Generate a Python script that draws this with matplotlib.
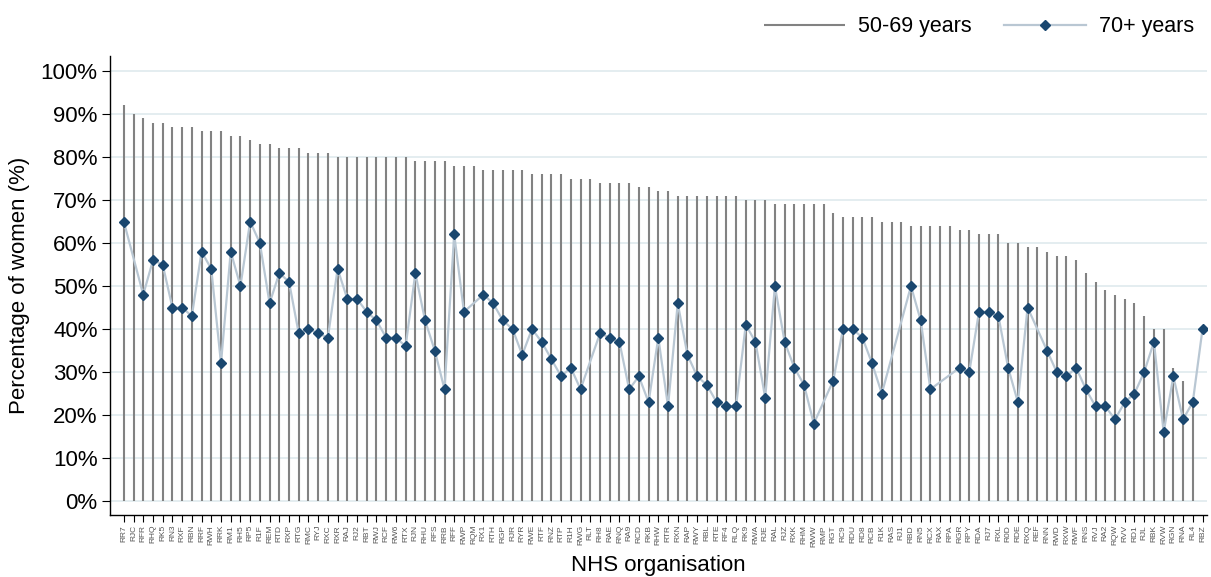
import numpy as np
import matplotlib.pyplot as plt

# NHS organisations, ordered by share of women aged 50-69
orgs = ["RR7", "RJC", "RFR", "RHQ", "RK5", "RN3", "RXF", "RBN", "RRF", "RWH",
        "RRK", "RM1", "RH5", "RP5", "R1F", "REM", "RTD", "RXP", "RTG", "RMC",
        "RYJ", "RXC", "RXR", "RAJ", "RJ2", "RBT", "RWJ", "RCF", "RW6", "RTX",
        "RJN", "RHU", "RFS", "RRB", "RFF", "RWP", "RQM", "RX1", "RTH", "RGP",
        "RJR", "RYR", "RWE", "RTF", "RNZ", "RTP", "R1H", "RWG", "RLT", "RH8",
        "RAE", "RNQ", "RA9", "RCD", "RKB", "RHW", "RTR", "RXN", "RAP", "RWY",
        "RBL", "RTE", "RF4", "RLQ", "RK9", "RWA", "RJE", "RAL", "RJZ", "RXK",
        "RHM", "RWW", "RMP", "RGT", "RC9", "RDU", "RD8", "RCB", "R1K", "RAS",
        "RJ1", "RBD", "RN5", "RCX", "RAX", "RPA", "RGR", "RPY", "RDA", "RJ7",
        "RXL", "R0D", "RDE", "RXQ", "REF", "RNN", "RWD", "RXW", "RWF", "RNS",
        "RVJ", "RA2", "RQW", "RVV", "RD1", "RJL", "RBK", "RVW", "RGN", "RNA",
        "RL4", "RBZ"]

# % women aged 50-69 years
pct_50_69 = [92, 90, 89, 88, 88, 87, 87, 87, 86, 86,
             86, 85, 85, 84, 83, 83, 82, 82, 82, 81,
             81, 81, 80, 80, 80, 80, 80, 80, 80, 80,
             79, 79, 79, 79, 78, 78, 78, 77, 77, 77,
             77, 77, 76, 76, 76, 76, 75, 75, 75, 74,
             74, 74, 74, 73, 73, 72, 72, 71, 71, 71,
             71, 71, 71, 71, 70, 70, 70, 69, 69, 69,
             69, 69, 69, 67, 66, 66, 66, 66, 65, 65,
             65, 64, 64, 64, 64, 64, 63, 63, 62, 62,
             62, 60, 60, 59, 59, 58, 57, 57, 56, 53,
             51, 49, 48, 47, 46, 43, 40, 40, 31, 28,
             22, np.nan]

# % women aged 70+ years (nan = not shown)
pct_70plus = [65, np.nan, 48, 56, 55, 45, 45, 43, 58, 54,
              32, 58, 50, 65, 60, 46, 53, 51, 39, 40,
              39, 38, 54, 47, 47, 44, 42, 38, 38, 36,
              53, 42, 35, 26, 62, 44, np.nan, 48, 46, 42,
              40, 34, 40, 37, 33, 29, 31, 26, np.nan, 39,
              38, 37, 26, 29, 23, 38, 22, 46, 34, 29,
              27, 23, 22, 22, 41, 37, 24, 50, 37, 31,
              27, 18, np.nan, 28, 40, 40, 38, 32, 25, np.nan,
              np.nan, 50, 42, 26, np.nan, np.nan, 31, 30, 44, 44,
              43, 31, 23, 45, np.nan, 35, 30, 29, 31, 26,
              22, 22, 19, 23, 25, 30, 37, 16, 29, 19,
              23, 40]

x = np.arange(len(orgs))
a = np.array(pct_50_69, dtype=float)
b = np.array(pct_70plus, dtype=float)

plt.rcParams['font.family'] = ['Liberation Sans', 'DejaVu Sans']

fig = plt.figure(figsize=(12.11, 5.77), dpi=100)
ax = fig.add_axes([0.091, 0.107, 0.906, 0.796])

# light horizontal grid
for v in range(0, 101, 10):
    ax.axhline(v, color="#e4edf0", lw=1.4, zorder=0)

ok = ~np.isnan(a)
ax.vlines(x[ok], 0, a[ok], color="#828282", lw=1.5, zorder=2, label="50-69 years")

m = ~np.isnan(b)
ax.plot(x[m], b[m], color="#b9c7d3", lw=1.6, marker="D", markersize=5.3,
        markerfacecolor="#1a476f", markeredgecolor="#1a476f", zorder=3,
        label="70+ years")

ax.set_xlim(-1.4, 111.5)
ax.set_ylim(-3.3, 103.5)
ax.set_yticks(range(0, 101, 10))
ax.set_yticklabels([f"{v}%" for v in range(0, 101, 10)], fontsize=16)
ax.set_xticks(x)
ax.set_xticklabels(orgs, rotation=90, fontsize=6, color="#555555")
ax.tick_params(axis="x", length=5, width=0.8, pad=2)
ax.tick_params(axis="y", length=6, width=0.8, pad=3)

ax.spines["top"].set_visible(False)
ax.spines["right"].set_visible(False)
ax.spines["left"].set_linewidth(1.0)
ax.spines["bottom"].set_linewidth(1.0)

ax.set_ylabel("Percentage of women (%)", fontsize=16, labelpad=8)
ax.set_xlabel("NHS organisation", fontsize=16, labelpad=6)

fig.legend(loc="upper right", bbox_to_anchor=(1.002, 1.005), ncol=2,
           frameon=False, fontsize=15.5, handlelength=3.8, handletextpad=0.6,
           columnspacing=1.5)

plt.savefig("out.png", dpi=100)
